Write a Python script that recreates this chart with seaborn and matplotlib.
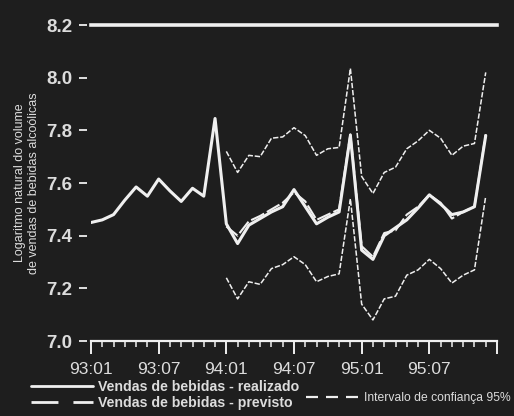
import numpy as np
import pandas as pd
import matplotlib
matplotlib.use("Agg")
import matplotlib.pyplot as plt
from matplotlib.lines import Line2D
import seaborn as sns

# ---------------- data ----------------
months_all = [f"{y}:{m:02d}" for y in (93, 94, 95) for m in range(1, 13)]
realizado = [7.45, 7.46, 7.48, 7.535, 7.585, 7.55, 7.615, 7.57, 7.53, 7.58, 7.55, 7.845,
             7.445, 7.37, 7.44, 7.465, 7.49, 7.51, 7.575, 7.51, 7.445, 7.47, 7.49, 7.78,
             7.345, 7.31, 7.40, 7.43, 7.46, 7.505, 7.555, 7.52, 7.48, 7.49, 7.51, 7.78]
previsto = [7.435, 7.40, 7.455, 7.475, 7.50, 7.525, 7.565, 7.53, 7.46, 7.48, 7.50, 7.785,
            7.36, 7.32, 7.41, 7.42, 7.48, 7.51, 7.555, 7.525, 7.465, 7.49, 7.51, 7.785]
ic_superior = [7.72, 7.64, 7.705, 7.70, 7.77, 7.775, 7.81, 7.78, 7.705, 7.73, 7.735, 8.035,
               7.625, 7.56, 7.64, 7.66, 7.73, 7.76, 7.80, 7.77, 7.705, 7.74, 7.75, 8.02]
ic_inferior = [7.24, 7.16, 7.225, 7.215, 7.275, 7.29, 7.32, 7.29, 7.225, 7.245, 7.255, 7.54,
               7.14, 7.08, 7.16, 7.17, 7.25, 7.27, 7.31, 7.275, 7.22, 7.25, 7.27, 7.55]
xtick_labels = ["93:01", "93:07", "94:01", "94:07", "95:01", "95:07", ""]
ytick_values = [7.0, 7.2, 7.4, 7.6, 7.8, 8.0, 8.2]

idx_all = np.arange(len(months_all))
idx_fc = np.arange(12, 12 + len(previsto))

df_real = pd.DataFrame({"t": idx_all, "v": realizado})
df_fc = pd.DataFrame({"t": idx_fc, "prev": previsto, "sup": ic_superior, "inf": ic_inferior})

# ---------------- style ----------------
BG = "#1e1e1e"
FG = "#efefef"
TXT = "#dcdcdc"
sns.set_theme(style="dark", rc={"axes.facecolor": BG, "figure.facecolor": BG})
plt.rcParams["font.family"] = ["Liberation Sans", "DejaVu Sans"]

fig = plt.figure(figsize=(5.14, 4.16), dpi=100, facecolor=BG)
ax = fig.add_axes([91 / 514, 75 / 416, 406 / 514, 316 / 416])
ax.set_facecolor(BG)

ci_ls = (0, (3.5, 1.2))
fc_ls = (0, (7, 1.5))
sns.lineplot(data=df_fc, x="t", y="sup", ax=ax, color=FG, lw=1.1, linestyle=ci_ls)
sns.lineplot(data=df_fc, x="t", y="inf", ax=ax, color=FG, lw=1.1, linestyle=ci_ls)
sns.lineplot(data=df_real, x="t", y="v", ax=ax, color=FG, lw=2.2)
sns.lineplot(data=df_fc, x="t", y="prev", ax=ax, color=FG, lw=1.5, linestyle=fc_ls)

ax.set_xlim(0, 36)
ax.set_ylim(7.0, 8.2)
ax.set_xlabel("")

# spines
for s in ("left", "right"):
    ax.spines[s].set_visible(False)
ax.spines["left"].set_position(("outward", 3))
ax.spines["top"].set_color(FG)
ax.spines["top"].set_linewidth(2.6)
ax.spines["bottom"].set_color(FG)
ax.spines["bottom"].set_linewidth(1.6)

# x ticks
ax.set_xticks(np.arange(0, 37, 6))
ax.set_xticklabels(xtick_labels)
ax.set_xticks(np.arange(0, 37, 1), minor=True)
ax.tick_params(axis="x", which="major", direction="out", length=9, width=1.4,
               color=FG, labelcolor=TXT, labelsize=12.5, pad=6, bottom=True)
ax.tick_params(axis="x", which="minor", direction="out", length=4, width=1.1,
               color=FG, bottom=True)

# y ticks
ax.set_yticks(ytick_values)
ax.set_yticklabels([f"{v:.1f}" for v in ytick_values], fontweight="bold")
ax.tick_params(axis="y", which="major", direction="out", length=5.5, width=1.3,
               color=FG, labelcolor=TXT, labelsize=13.5, pad=5, left=True)
ax.grid(False)

ax.set_ylabel("Logaritmo natural do volume\nde vendas de bebidas alcoólicas",
              color=TXT, fontsize=9, linespacing=1.25)
ax.yaxis.label.set_va("center")
ax.yaxis.set_label_coords(-0.158, 0.5)

# legends
h_real = Line2D([], [], color=FG, lw=2.0)
h_prev = Line2D([], [], color=FG, lw=2.0, linestyle=(0, (9.7, 5.4)))
h_ic = Line2D([], [], color=FG, lw=1.6, linestyle=(0, (5.4, 3.6)))

leg1 = fig.legend(handles=[h_real, h_prev],
                  labels=["Vendas de bebidas - realizado", "Vendas de bebidas - previsto"],
                  loc="center left", bbox_to_anchor=(31 / 514, 1 - 395 / 416),
                  frameon=False, borderpad=0, borderaxespad=0, handlelength=4.4,
                  handletextpad=0.3, labelspacing=0.15,
                  prop={"family": ["Liberation Sans", "DejaVu Sans"], "weight": "bold", "size": 10.2})
for t in leg1.get_texts():
    t.set_color(TXT)

leg2 = fig.legend(handles=[h_ic], labels=["Intervalo de confiança 95%"],
                  loc="center left", bbox_to_anchor=(306 / 514, 1 - 398 / 416),
                  frameon=False, borderpad=0, borderaxespad=0, handlelength=4.6,
                  handletextpad=0.2,
                  prop={"family": ["Liberation Sans", "DejaVu Sans"], "size": 8.7})
for t in leg2.get_texts():
    t.set_color(TXT)

fig.savefig("out.png", dpi=100, facecolor=BG)
